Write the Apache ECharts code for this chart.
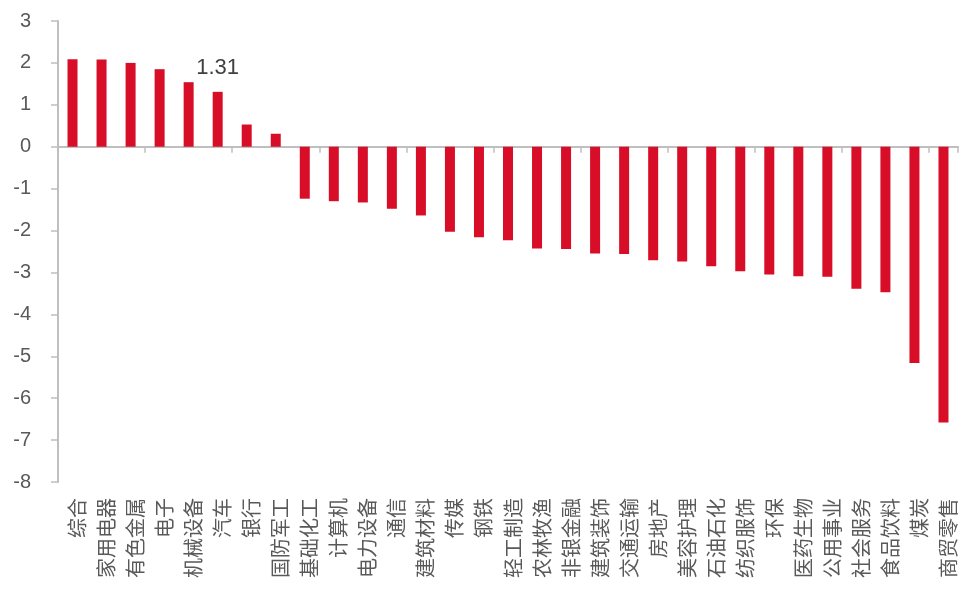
<!DOCTYPE html>
<html>
<head>
<meta charset="utf-8">
<script src="https://cdn.jsdelivr.net/npm/echarts@6/dist/echarts.min.js"></script>
<style>
  html, body { margin: 0; padding: 0; background: #fff; }
  #chart { width: 961px; height: 592px; }
</style>
</head>
<body>
<div id="chart"></div>
<script>
// Industry names (Shenwan level-1 sectors)
const categories = ['综合', '家用电器', '有色金属', '电子', '机械设备', '汽车', '银行', '国防军工',
  '基础化工', '计算机', '电力设备', '通信', '建筑材料', '传媒', '钢铁', '轻工制造', '农林牧渔',
  '非银金融', '建筑装饰', '交通运输', '房地产', '美容护理', '石油石化', '纺织服饰', '环保',
  '医药生物', '公用事业', '社会服务', '食品饮料', '煤炭', '商贸零售'];

// Weekly change per sector, %
const values = [2.09, 2.08, 2.00, 1.85, 1.54, 1.31, 0.53, 0.31,
  -1.24, -1.30, -1.33, -1.48, -1.64, -2.03, -2.16, -2.23, -2.43,
  -2.44, -2.55, -2.56, -2.71, -2.74, -2.85, -2.97, -3.05,
  -3.09, -3.10, -3.39, -3.47, -5.16, -6.58];

// Only this sector carries a value label
const labelledCategory = '汽车';

const yTicks = { min: -8, max: 3, interval: 1 };

const FONT = '"Liberation Sans", Arial, "Noto Sans CJK SC", sans-serif';
const AXIS_GREY = '#bfbfbf';
const TEXT_GREY = '#595959';
const BAR_RED = '#d80d27';

const seriesData = values.map((v, i) => {
  if (categories[i] !== labelledCategory) return v;
  return {
    value: v,
    label: {
      show: true,
      position: 'top',
      distance: 13,
      formatter: (p) => p.value.toFixed(2),
      fontSize: 22,
      color: '#404040',
      fontFamily: FONT
    }
  };
});

const chart = echarts.init(document.getElementById('chart'), null, { renderer: 'canvas' });
chart.setOption({
  animation: false,
  backgroundColor: '#ffffff',
  grid: { left: 58, right: 3, top: 21, bottom: 110, containLabel: false },
  xAxis: [
    {
      // zero line with category ticks
      type: 'category',
      data: categories,
      axisLine: { onZero: true, lineStyle: { color: AXIS_GREY, width: 2 } },
      axisTick: { show: true, alignWithLabel: false, length: 6, lineStyle: { color: AXIS_GREY, width: 1.5 } },
      axisLabel: { show: false }
    },
    {
      // category names along the bottom edge
      type: 'category',
      data: categories,
      position: 'bottom',
      axisLine: { show: false },
      axisTick: { show: false },
      axisLabel: {
        show: true,
        interval: 0,
        rotate: 90,
        margin: 16,
        fontSize: 20,
        color: TEXT_GREY,
        fontFamily: FONT,
        verticalAlign: 'top',
        lineHeight: 14
      }
    }
  ],
  yAxis: {
    type: 'value',
    min: yTicks.min,
    max: yTicks.max,
    interval: yTicks.interval,
    axisLine: { show: true, lineStyle: { color: AXIS_GREY, width: 2 } },
    axisTick: { show: true, length: 7, lineStyle: { color: AXIS_GREY, width: 1.5 } },
    splitLine: { show: false },
    axisLabel: { margin: 27, fontSize: 20, color: TEXT_GREY, fontFamily: FONT }
  },
  series: [{
    type: 'bar',
    xAxisIndex: 0,
    data: seriesData,
    barWidth: 10,
    itemStyle: { color: BAR_RED }
  }]
});
</script>
</body>
</html>
